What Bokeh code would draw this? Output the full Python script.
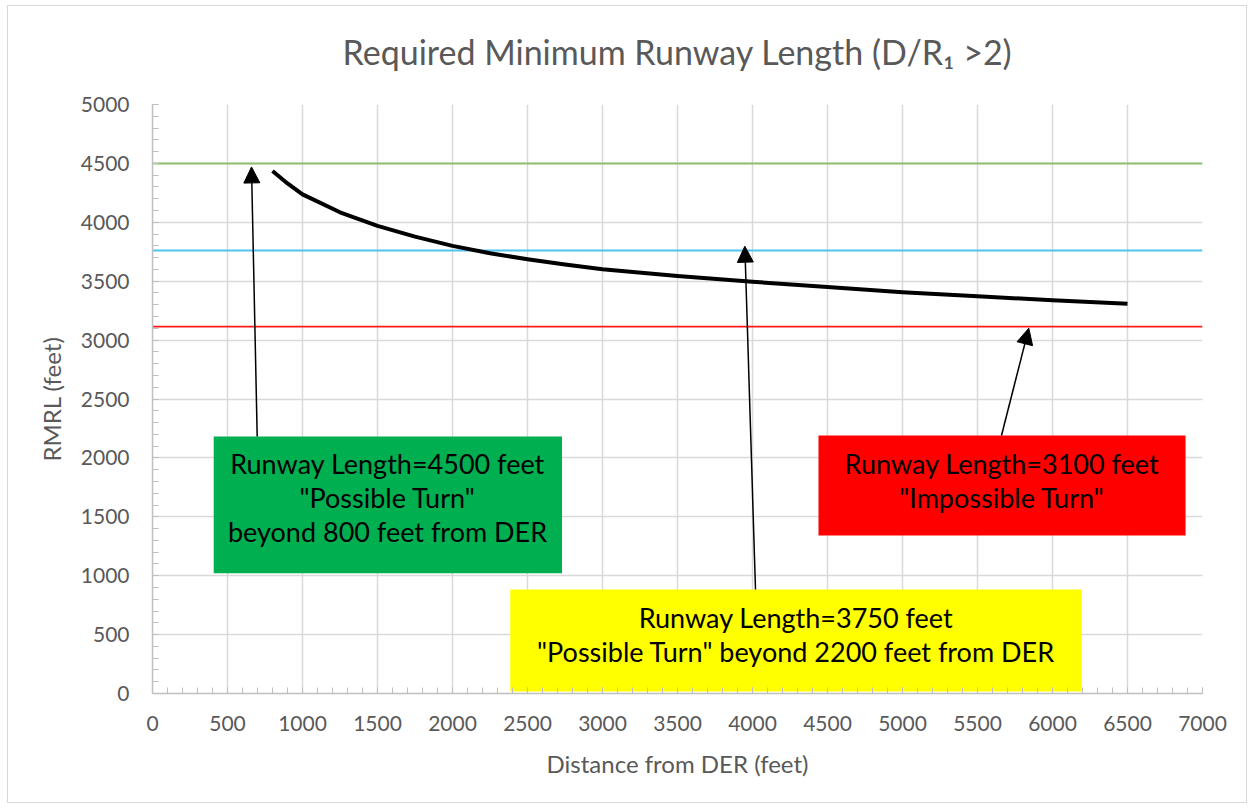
from bokeh.plotting import figure
from bokeh.layouts import column
from bokeh.models import Range1d, SingleIntervalTicker, Arrow, NormalHead
from bokeh.core.properties import value
from bokeh.embed import file_html
from bokeh.resources import INLINE

# ---- data ----
distance_ft = [800, 900, 1000, 1250, 1500, 1750, 2000, 2250, 2500, 2750, 3000,
               3500, 4000, 4500, 5000, 5500, 6000, 6500]
rmrl_ft = [4435, 4330, 4237, 4085, 3970, 3878, 3800, 3738, 3686, 3641, 3602,
           3545, 3495, 3450, 3407, 3373, 3338, 3308]

ref_x = [0, 7000]
ref_green = [4500, 4500]
ref_blue = [3760, 3760]
ref_red = [3115, 3115]

title_text = "Required Minimum Runway Length (D/R\u2081 >2)"
box_texts = [
    'Runway Length=4500 feet\n"Possible Turn"\nbeyond 800 feet from DER',
    'Runway Length=3750 feet\n"Possible Turn" beyond 2200 feet from DER',
    'Runway Length=3100 feet\n"Impossible Turn"',
]

FONT = "Lato"
GREY = "#595959"

p = figure(output_backend="svg", toolbar_location=None,
           frame_width=1050, frame_height=589,
           min_border_left=144, min_border_right=44,
           min_border_top=110, min_border_bottom=109,
           x_range=Range1d(0, 7000), y_range=Range1d(0, 5000),
           title=title_text)
p.styles = {"margin-top": "-12px"}
p.border_fill_color = None
p.outline_line_color = None

p.title.align = "center"
p.title.offset = -7
p.title.text_font = FONT
p.title.text_font_style = "normal"
p.title.text_font_size = "34px"
p.title.text_color = GREY
p.title.standoff = 66

for ax, lab in ((p.xaxis[0], "Distance from DER (feet)"), (p.yaxis[0], "RMRL (feet)")):
    ax.ticker = SingleIntervalTicker(interval=500, num_minor_ticks=5)
    ax.axis_label = lab
    ax.axis_label_text_font = FONT
    ax.axis_label_text_font_style = "normal"
    ax.axis_label_text_font_size = "24px"
    ax.axis_label_text_color = GREY
    ax.major_label_text_font = FONT
    ax.major_label_text_font_size = "21px"
    ax.major_label_text_color = GREY
    ax.axis_line_color = "#bfbfbf"
    ax.axis_line_width = 1.5
    ax.major_tick_line_color = "#bfbfbf"
    ax.minor_tick_line_color = "#bfbfbf"
    ax.major_tick_in = 6
    ax.major_tick_out = 0
    ax.minor_tick_in = 6
    ax.minor_tick_out = 0
p.xaxis.major_label_standoff = 22
p.xaxis.axis_label_standoff = 15
p.yaxis.major_label_standoff = 23
p.yaxis.axis_label_standoff = 12

for g in (p.xgrid[0], p.ygrid[0]):
    g.ticker = SingleIntervalTicker(interval=500)
    g.grid_line_color = "#d9d9d9"
    g.grid_line_width = 1.5

# reference lines
p.line(ref_x, ref_green, line_color="#8fbf6c", line_width=2)
p.line(ref_x, ref_blue, line_color="#4fc3ef", line_width=2)
p.line(ref_x, ref_red, line_color="#ff1a1a", line_width=1.8)

# curve
p.line(distance_ft, rmrl_ft, line_color="black", line_width=4, line_join="round")

# boxes
p.quad(left=[408], right=[2730], bottom=[1020], top=[2182], fill_color="#00b050", line_color=None)
p.quad(left=[2385], right=[6195], bottom=[17], top=[883], fill_color="#ffff00", line_color=None)
p.quad(left=[4440], right=[6887], bottom=[1341], top=[2190], fill_color="#ff0000", line_color=None)

p.text(x=[1567, 4290, 5663], y=[1665, 501, 1804], text=box_texts,
       text_align="center", text_baseline="middle",
       text_font=value(FONT), text_font_size="27px", text_color="black",
       text_line_height=1.03)

# arrows
for (x0, y0, x1, y1) in ((698, 2182, 660, 4470), (4020, 883, 3949, 3797), (5660, 2190, 5842, 3101)):
    p.add_layout(Arrow(x_start=x0, y_start=y0, x_end=x1, y_end=y1,
                       line_color="black", line_width=1.5,
                       end=NormalHead(size=16, fill_color="black", line_color="black")))

layout = column(p, styles={"border": "1px solid #d9d9d9", "margin-left": "7px", "margin-top": "5px"})

open("out.html", "w").write(file_html(layout, INLINE))
